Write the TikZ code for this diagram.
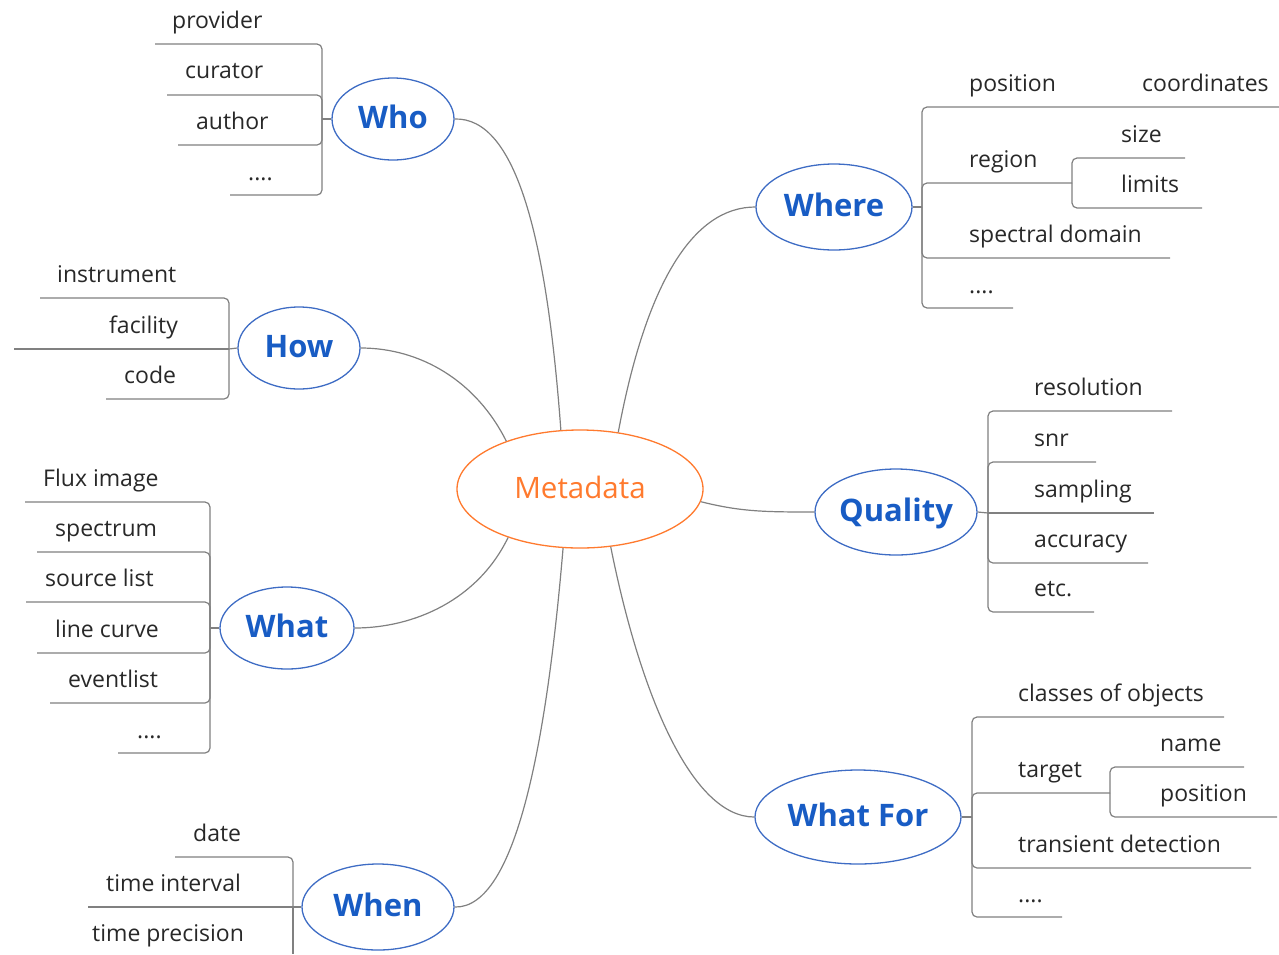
\documentclass[tikz,border=0pt]{standalone}
\usepackage{fontspec}
\setmainfont{Open Sans}
\usetikzlibrary{shapes.geometric}
\definecolor{topicblue}{RGB}{24,92,196}
\definecolor{ringblue}{RGB}{62,108,196}
\definecolor{metaorange}{RGB}{255,122,46}
\definecolor{linegray}{RGB}{128,128,128}
\definecolor{itemtext}{RGB}{40,40,40}
\begin{document}
\begin{tikzpicture}[x=1pt, y=-1pt,
    topic/.style={ellipse, draw=ringblue, line width=1.3pt, inner sep=0pt,
        text=topicblue, font=\fontsize{31}{34}\selectfont\bfseries,
        text height=24pt, text depth=5pt},
    centre/.style={ellipse, draw=metaorange, line width=1.3pt, inner sep=0pt,
        text=metaorange, font=\fontsize{29.5}{33}\selectfont,
        text height=22pt, text depth=4pt},
    item/.style={anchor=base west, inner sep=0pt, text=itemtext,
        font=\fontsize{23}{26}\selectfont},
    branch/.style={draw=linegray, line width=1.2pt, rounded corners=5pt},
    link/.style={draw=linegray, line width=1.2pt}]
    \useasboundingbox (0,0) rectangle (1279,954);

    % central topic and main topics
    \node[centre, minimum width=246pt, minimum height=118pt] (meta) at (580,489) {Metadata};
    \node[topic, minimum width=122pt, minimum height=82pt] (who) at (393,119) {Who};
    \node[topic, minimum width=156pt, minimum height=86pt] (where) at (834,207) {Where};
    \node[topic, minimum width=122pt, minimum height=82pt] (how) at (299,348) {How};
    \node[topic, minimum width=162pt, minimum height=86pt] (quality) at (896,512) {Quality};
    \node[topic, minimum width=134pt, minimum height=82pt] (what) at (287,628) {What};
    \node[topic, minimum width=206pt, minimum height=94pt] (whatfor) at (858,817) {What For};
    \node[topic, minimum width=152pt, minimum height=86pt] (when) at (378,907) {When};

    % links from the centre
    \draw[link] (meta.108) .. controls +(-14,-190) and +(62,-2) .. (who.east);
    \draw[link] (meta.147) .. controls +(-30,-60) and +(60,0) .. (how.east);
    \draw[link] (meta.214) .. controls +(-30,62) and +(60,0) .. (what.east);
    \draw[link] (meta.254) .. controls +(-16,190) and +(62,2) .. (when.east);
    \draw[link] (meta.56) .. controls +(28,-150) and +(-62,0) .. (where.west);
    \draw[link] (meta.-6) .. controls +(40,10) and +(-50,0) .. (quality.west);
    \draw[link] (meta.298) .. controls +(30,150) and +(-62,0) .. (whatfor.west);

    % Who
    \draw[link] (who.west) -- (322,119);
    \draw[branch] (155,44) -- (322,44) -- (322,119);
    \draw[branch] (167,95) -- (322,95) -- (322,119);
    \draw[branch] (178,145) -- (322,145) -- (322,119);
    \draw[branch] (230,195) -- (322,195) -- (322,119);
    \node[item] (provider) at (172,28) {provider};
    \node[item] (curator) at (185,78) {curator};
    \node[item] (author) at (196,129) {author};
    \node[item] (whomore) at (248,180) {....};

    % Where
    \draw[link] (where.east) -- (922,207);
    \draw[branch] (1279,107) -- (922,107) -- (922,207);
    \draw[branch] (1072,183) -- (922,183) -- (922,207);
    \draw[branch] (1170,258) -- (922,258) -- (922,207);
    \draw[branch] (1013,308) -- (922,308) -- (922,207);
    \draw[branch] (1185,158) -- (1072,158) -- (1072,183);
    \draw[branch] (1202,208) -- (1072,208) -- (1072,183);
    \node[item] (position) at (969,91) {position};
    \node[item] (coordinates) at (1142,91) {coordinates};
    \node[item] (region) at (969,167) {region};
    \node[item] (size) at (1121,142) {size};
    \node[item] (limits) at (1121,192) {limits};
    \node[item] (spectral) at (969,242) {spectral domain};
    \node[item] (wheremore) at (969,293) {....};

    % How
    \draw[link] (how.west) -- (229,349);
    \draw[branch] (40,298) -- (229,298) -- (229,349);
    \draw[branch] (14,349) -- (229,349);
    \draw[branch] (106,399) -- (229,399) -- (229,349);
    \node[item] (instrument) at (57,282) {instrument};
    \node[item] (facility) at (109,333) {facility};
    \node[item] (code) at (124,383) {code};

    % Quality
    \draw[link] (quality.east) -- (988,513);
    \draw[branch] (1172,411) -- (988,411) -- (988,513);
    \draw[branch] (1096,462) -- (988,462) -- (988,513);
    \draw[branch] (1154,513) -- (988,513);
    \draw[branch] (1148,563) -- (988,563) -- (988,513);
    \draw[branch] (1094,612) -- (988,612) -- (988,513);
    \node[item] (resolution) at (1034,395) {resolution};
    \node[item] (snr) at (1034,446) {snr};
    \node[item] (sampling) at (1034,497) {sampling};
    \node[item] (accuracy) at (1034,547) {accuracy};
    \node[item] (etc) at (1034,596) {etc.};

    % What
    \draw[link] (what.west) -- (210,628);
    \draw[branch] (25,502) -- (210,502) -- (210,628);
    \draw[branch] (37,552) -- (210,552) -- (210,628);
    \draw[branch] (26,602) -- (210,602) -- (210,628);
    \draw[branch] (37,653) -- (210,653) -- (210,628);
    \draw[branch] (50,703) -- (210,703) -- (210,628);
    \draw[branch] (118,753) -- (210,753) -- (210,628);
    \node[item] (flux) at (43,486) {Flux image};
    \node[item] (spectrum) at (55,536) {spectrum};
    \node[item] (sourcelist) at (45,586) {source list};
    \node[item] (linecurve) at (55,637) {line curve};
    \node[item] (eventlist) at (68,687) {eventlist};
    \node[item] (whatmore) at (137,738) {....};

    % What For
    \draw[link] (whatfor.east) -- (972,817);
    \draw[branch] (1224,717) -- (972,717) -- (972,817);
    \draw[branch] (1110,793) -- (972,793) -- (972,817);
    \draw[branch] (1251,868) -- (972,868) -- (972,817);
    \draw[branch] (1062,917) -- (972,917) -- (972,817);
    \draw[branch] (1244,767) -- (1110,767) -- (1110,793);
    \draw[branch] (1277,817) -- (1110,817) -- (1110,793);
    \node[item] (classes) at (1018,701) {classes of objects};
    \node[item] (target) at (1018,777) {target};
    \node[item] (name) at (1160,751) {name};
    \node[item] (tposition) at (1160,801) {position};
    \node[item] (transient) at (1018,852) {transient detection};
    \node[item] (whatformore) at (1018,902) {....};

    % When
    \draw[link] (when.west) -- (293,907);
    \draw[branch] (175,857) -- (293,857) -- (293,907);
    \draw[branch] (88,907) -- (293,907);
    \draw[branch] (293,907) -- (293,954);
    \node[item] (date) at (193,841) {date};
    \node[item] (interval) at (106,891) {time interval};
    \node[item] (precision) at (92,941) {time precision};
\end{tikzpicture}
\end{document}
